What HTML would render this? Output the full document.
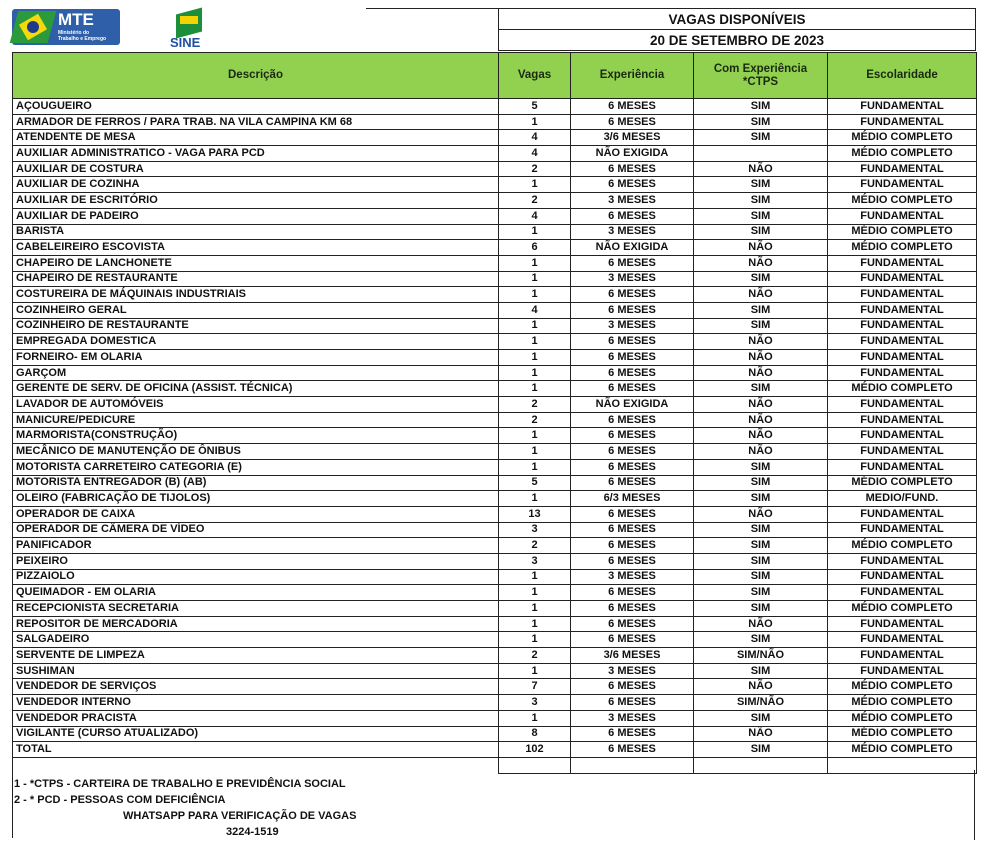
<!DOCTYPE html>
<html><head><meta charset="utf-8"><style>
body{margin:0;width:984px;height:861px;background:#fff;position:relative;overflow:hidden;font-family:"Liberation Sans",Arial,sans-serif;font-weight:bold;color:#111}
table{border-collapse:collapse;table-layout:fixed;position:absolute}
td{border:1px solid #222;padding:0 3px;font-size:11px;white-space:nowrap;overflow:hidden;line-height:13px}
#main{left:12px;top:52px;width:964px}
#main tr.r td{height:14.7px}
#main td.c{text-align:center}
.hd td{background:#92d050;height:45px;text-align:center;font-size:11.5px;color:#1a2a10}
#title{left:498px;top:8px;width:478px}
#title td{text-align:center;font-size:13.5px;height:20px}
.foot{position:absolute;left:14px;font-size:11px}
</style></head><body>
<div style="position:absolute;left:12px;top:9px;width:108px;height:36px;background:#2e5fa8;border-radius:3px"></div>
<div style="position:absolute;left:14px;top:11px;width:38px;height:32px;background:#2b9a3a;transform:skewX(-15deg)"></div>
<div style="position:absolute;left:22px;top:18px;width:22px;height:18px;background:#f5d90a;transform:rotate(-30deg)"></div>
<div style="position:absolute;left:27px;top:21px;width:12px;height:12px;background:#1f3a8a;border-radius:50%"></div>
<div style="position:absolute;left:58px;top:10px;color:#fff;font-size:17px">MTE</div>
<div style="position:absolute;left:58px;top:30px;color:#fff;font-size:5px;line-height:6px">Ministério do<br>Trabalho e Emprego</div>
<div style="position:absolute;left:176px;top:11px;width:26px;height:24px;background:#1d8f3a;transform:skewY(-15deg)"></div>
<div style="position:absolute;left:180px;top:16px;width:18px;height:8px;background:#f3d400"></div>
<div style="position:absolute;left:170px;top:35px;color:#1f4fa0;font-size:13px">SINE</div>
<div style="position:absolute;left:366px;top:8px;width:132px;border-top:1px solid #222"></div>
<table id="title"><tr><td>VAGAS DISPONÍVEIS</td></tr><tr><td>20 DE SETEMBRO DE 2023</td></tr></table>
<table id="main">
<colgroup><col style="width:486px"><col style="width:72px"><col style="width:123px"><col style="width:134px"><col style="width:149px"></colgroup>
<tr class="hd"><td>Descrição</td><td>Vagas</td><td>Experiência</td><td>Com Experiência<br>*CTPS</td><td>Escolaridade</td></tr>
<tr class="r"><td>AÇOUGUEIRO</td><td class="c">5</td><td class="c">6 MESES</td><td class="c">SIM</td><td class="c">FUNDAMENTAL</td></tr>
<tr class="r"><td>ARMADOR DE FERROS / PARA TRAB. NA VILA CAMPINA KM 68</td><td class="c">1</td><td class="c">6 MESES</td><td class="c">SIM</td><td class="c">FUNDAMENTAL</td></tr>
<tr class="r"><td>ATENDENTE DE MESA</td><td class="c">4</td><td class="c">3/6 MESES</td><td class="c">SIM</td><td class="c">MÉDIO COMPLETO</td></tr>
<tr class="r"><td>AUXILIAR ADMINISTRATICO - VAGA PARA PCD</td><td class="c">4</td><td class="c">NÃO EXIGIDA</td><td class="c"></td><td class="c">MÉDIO COMPLETO</td></tr>
<tr class="r"><td>AUXILIAR DE COSTURA</td><td class="c">2</td><td class="c">6 MESES</td><td class="c">NÃO</td><td class="c">FUNDAMENTAL</td></tr>
<tr class="r"><td>AUXILIAR DE COZINHA</td><td class="c">1</td><td class="c">6 MESES</td><td class="c">SIM</td><td class="c">FUNDAMENTAL</td></tr>
<tr class="r"><td>AUXILIAR DE ESCRITÓRIO</td><td class="c">2</td><td class="c">3 MESES</td><td class="c">SIM</td><td class="c">MÉDIO COMPLETO</td></tr>
<tr class="r"><td>AUXILIAR DE PADEIRO</td><td class="c">4</td><td class="c">6 MESES</td><td class="c">SIM</td><td class="c">FUNDAMENTAL</td></tr>
<tr class="r"><td>BARISTA</td><td class="c">1</td><td class="c">3 MESES</td><td class="c">SIM</td><td class="c">MÉDIO COMPLETO</td></tr>
<tr class="r"><td>CABELEIREIRO ESCOVISTA</td><td class="c">6</td><td class="c">NÃO EXIGIDA</td><td class="c">NÃO</td><td class="c">MÉDIO COMPLETO</td></tr>
<tr class="r"><td>CHAPEIRO DE LANCHONETE</td><td class="c">1</td><td class="c">6 MESES</td><td class="c">NÃO</td><td class="c">FUNDAMENTAL</td></tr>
<tr class="r"><td>CHAPEIRO DE RESTAURANTE</td><td class="c">1</td><td class="c">3 MESES</td><td class="c">SIM</td><td class="c">FUNDAMENTAL</td></tr>
<tr class="r"><td>COSTUREIRA DE MÁQUINAIS  INDUSTRIAIS</td><td class="c">1</td><td class="c">6 MESES</td><td class="c">NÃO</td><td class="c">FUNDAMENTAL</td></tr>
<tr class="r"><td>COZINHEIRO GERAL</td><td class="c">4</td><td class="c">6 MESES</td><td class="c">SIM</td><td class="c">FUNDAMENTAL</td></tr>
<tr class="r"><td>COZINHEIRO DE RESTAURANTE</td><td class="c">1</td><td class="c">3 MESES</td><td class="c">SIM</td><td class="c">FUNDAMENTAL</td></tr>
<tr class="r"><td>EMPREGADA DOMESTICA</td><td class="c">1</td><td class="c">6 MESES</td><td class="c">NÃO</td><td class="c">FUNDAMENTAL</td></tr>
<tr class="r"><td>FORNEIRO- EM OLARIA</td><td class="c">1</td><td class="c">6 MESES</td><td class="c">NÃO</td><td class="c">FUNDAMENTAL</td></tr>
<tr class="r"><td>GARÇOM</td><td class="c">1</td><td class="c">6 MESES</td><td class="c">NÃO</td><td class="c">FUNDAMENTAL</td></tr>
<tr class="r"><td>GERENTE DE SERV. DE OFICINA (ASSIST. TÉCNICA)</td><td class="c">1</td><td class="c">6 MESES</td><td class="c">SIM</td><td class="c">MÉDIO COMPLETO</td></tr>
<tr class="r"><td>LAVADOR DE  AUTOMÓVEIS</td><td class="c">2</td><td class="c">NÃO EXIGIDA</td><td class="c">NÃO</td><td class="c">FUNDAMENTAL</td></tr>
<tr class="r"><td>MANICURE/PEDICURE</td><td class="c">2</td><td class="c">6 MESES</td><td class="c">NÃO</td><td class="c">FUNDAMENTAL</td></tr>
<tr class="r"><td>MARMORISTA(CONSTRUÇÃO)</td><td class="c">1</td><td class="c">6 MESES</td><td class="c">NÃO</td><td class="c">FUNDAMENTAL</td></tr>
<tr class="r"><td>MECÂNICO DE MANUTENÇÃO DE ÔNIBUS</td><td class="c">1</td><td class="c">6 MESES</td><td class="c">NÃO</td><td class="c">FUNDAMENTAL</td></tr>
<tr class="r"><td>MOTORISTA CARRETEIRO CATEGORIA (E)</td><td class="c">1</td><td class="c">6 MESES</td><td class="c">SIM</td><td class="c">FUNDAMENTAL</td></tr>
<tr class="r"><td>MOTORISTA ENTREGADOR (B) (AB)</td><td class="c">5</td><td class="c">6 MESES</td><td class="c">SIM</td><td class="c">MÉDIO COMPLETO</td></tr>
<tr class="r"><td>OLEIRO (FABRICAÇÃO DE TIJOLOS)</td><td class="c">1</td><td class="c">6/3 MESES</td><td class="c">SIM</td><td class="c">MEDIO/FUND.</td></tr>
<tr class="r"><td>OPERADOR DE CAIXA</td><td class="c">13</td><td class="c">6 MESES</td><td class="c">NÃO</td><td class="c">FUNDAMENTAL</td></tr>
<tr class="r"><td>OPERADOR DE CÂMERA DE VÍDEO</td><td class="c">3</td><td class="c">6 MESES</td><td class="c">SIM</td><td class="c">FUNDAMENTAL</td></tr>
<tr class="r"><td>PANIFICADOR</td><td class="c">2</td><td class="c">6 MESES</td><td class="c">SIM</td><td class="c">MÉDIO COMPLETO</td></tr>
<tr class="r"><td>PEIXEIRO</td><td class="c">3</td><td class="c">6 MESES</td><td class="c">SIM</td><td class="c">FUNDAMENTAL</td></tr>
<tr class="r"><td>PIZZAIOLO</td><td class="c">1</td><td class="c">3 MESES</td><td class="c">SIM</td><td class="c">FUNDAMENTAL</td></tr>
<tr class="r"><td>QUEIMADOR - EM OLARIA</td><td class="c">1</td><td class="c">6 MESES</td><td class="c">SIM</td><td class="c">FUNDAMENTAL</td></tr>
<tr class="r"><td>RECEPCIONISTA SECRETARIA</td><td class="c">1</td><td class="c">6 MESES</td><td class="c">SIM</td><td class="c">MÉDIO COMPLETO</td></tr>
<tr class="r"><td>REPOSITOR DE MERCADORIA</td><td class="c">1</td><td class="c">6 MESES</td><td class="c">NÃO</td><td class="c">FUNDAMENTAL</td></tr>
<tr class="r"><td>SALGADEIRO</td><td class="c">1</td><td class="c">6 MESES</td><td class="c">SIM</td><td class="c">FUNDAMENTAL</td></tr>
<tr class="r"><td>SERVENTE DE LIMPEZA</td><td class="c">2</td><td class="c">3/6 MESES</td><td class="c">SIM/NÃO</td><td class="c">FUNDAMENTAL</td></tr>
<tr class="r"><td>SUSHIMAN</td><td class="c">1</td><td class="c">3 MESES</td><td class="c">SIM</td><td class="c">FUNDAMENTAL</td></tr>
<tr class="r"><td>VENDEDOR DE SERVIÇOS</td><td class="c">7</td><td class="c">6 MESES</td><td class="c">NÃO</td><td class="c">MÉDIO COMPLETO</td></tr>
<tr class="r"><td>VENDEDOR INTERNO</td><td class="c">3</td><td class="c">6 MESES</td><td class="c">SIM/NÃO</td><td class="c">MÉDIO COMPLETO</td></tr>
<tr class="r"><td>VENDEDOR PRACISTA</td><td class="c">1</td><td class="c">3 MESES</td><td class="c">SIM</td><td class="c">MÉDIO COMPLETO</td></tr>
<tr class="r"><td>VIGILANTE  (CURSO ATUALIZADO)</td><td class="c">8</td><td class="c">6 MESES</td><td class="c">NÃO</td><td class="c">MÉDIO COMPLETO</td></tr>
<tr class="r"><td>TOTAL</td><td class="c">102</td><td class="c">6 MESES</td><td class="c">SIM</td><td class="c">MÉDIO COMPLETO</td></tr>
<tr class="r"><td style="border-bottom:none"></td><td></td><td></td><td></td><td></td></tr>
</table>
<div style="position:absolute;left:12px;top:770px;height:68px;border-left:1px solid #222"></div>
<div style="position:absolute;left:974px;top:770px;height:70px;border-left:1px solid #222"></div>
<div class="foot" style="top:778px">1 - *CTPS - CARTEIRA DE TRABALHO E PREVIDÊNCIA SOCIAL</div>
<div class="foot" style="top:794px">2 - * PCD - PESSOAS COM DEFICIÊNCIA</div>
<div class="foot" style="top:810px;left:123px">WHATSAPP PARA VERIFICAÇÃO DE VAGAS</div>
<div class="foot" style="top:826px;left:226px">3224-1519</div>
</body></html>
